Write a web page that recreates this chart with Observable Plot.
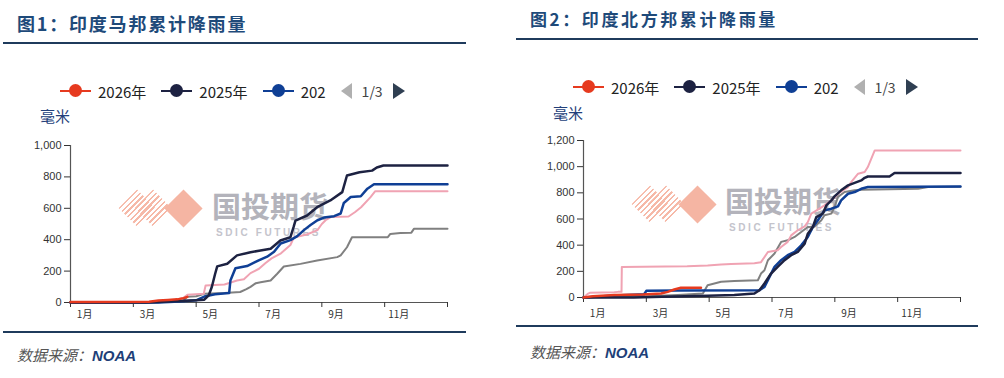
<!DOCTYPE html>
<html><head><meta charset="utf-8">
<script src="https://cdn.jsdelivr.net/npm/d3@7"></script>
<script src="https://cdn.jsdelivr.net/npm/@observablehq/plot@0.6"></script>
<style>
body{margin:0;background:#fff;width:1004px;height:378px;position:relative;overflow:hidden;font-family:"Noto Sans CJK SC","Noto Sans",sans-serif;}
.abs{position:absolute;white-space:nowrap;}
.title{font-weight:700;color:#1e4a7a;}
.rule{position:absolute;height:2px;background:#1f3b5c;}
.legend{position:absolute;display:flex;align-items:center;font-size:15px;color:#222;white-space:nowrap;height:20px;}
.mk{position:relative;width:31px;height:14px;margin-right:7px;flex:none;}
.mk .ln{position:absolute;left:0;right:0;top:6px;height:2px;}
.mk .dot{position:absolute;left:9px;top:0;width:13px;height:13px;border-radius:50%;}
.lt{margin-right:15px;}
.triL{width:0;height:0;border-top:8px solid transparent;border-bottom:8px solid transparent;border-right:11px solid #b0b0b0;margin-right:10px;}
.triR{width:0;height:0;border-top:8px solid transparent;border-bottom:8px solid transparent;border-left:12px solid #2f3f52;margin-left:10px;}
.unit{font-size:15px;color:#23407a;}
.src{font-size:15px;font-style:italic;color:#555;}
.src b{color:#1e3f78;font-family:"Liberation Sans",Arial,sans-serif;font-weight:700;}
.wm{position:absolute;left:0;top:0;width:1004px;height:378px;z-index:0;}
.wm .dia{position:absolute;width:27px;height:27px;background:#f5b5a3;transform:rotate(45deg);}
.wm .str{position:absolute;width:26px;height:26px;transform:rotate(45deg);background:repeating-linear-gradient(90deg,#f6b9a8 0 1.6px,transparent 1.6px 4px);}
.wm .cn{position:absolute;font-size:29px;line-height:29px;color:#b3b3bb;font-weight:700;white-space:nowrap;}
.wm .en{position:absolute;font-size:10px;line-height:10px;color:#c4c4cc;letter-spacing:2.6px;font-family:"Liberation Sans",Arial,sans-serif;font-weight:700;white-space:nowrap;}
.chart{position:absolute;z-index:1;}
</style></head>
<body>
<script>
// ---------- data ----------
const monthTicks = [1, 3, 5, 7, 9, 11];
const legendNames = ["2026年", "2025年", "202"];
const pageLabel = "1/3";
const yTicks1 = [0, 200, 400, 600, 800, 1000];
const yTicks2 = [0, 200, 400, 600, 800, 1000, 1200];

// 图1 印度马邦 cumulative rainfall [month, mm]
const maha2026 = [[1,3],[3.5,5],[3.8,12],[4.1,16],[4.4,20],[4.6,28],[4.72,36]];
const maha2025 = [[1,0],[3.4,0],[3.9,5],[4.5,10],[5.0,14],[5.26,18],[5.4,45],[5.5,100],[5.6,180],[5.67,230],[5.99,247],[6.3,300],[6.73,320],[7.0,330],[7.37,342],[7.68,395],[8.0,416],[8.1,480],[8.16,522],[8.53,554],[8.85,607],[9.27,650],[9.65,703],[9.8,809],[10.2,830],[10.6,840],[10.75,860],[10.96,873],[13,873]];
const maha2024 = [[1,0],[3.8,0],[4.3,5],[4.7,10],[5.0,14],[5.26,38],[5.6,52],[6.05,60],[6.09,140],[6.25,218],[6.62,232],[6.99,268],[7.26,292],[7.48,323],[7.69,376],[8.0,397],[8.22,423],[8.43,461],[8.64,493],[8.86,524],[9.07,541],[9.39,550],[9.6,567],[9.7,634],[9.92,672],[10.24,677],[10.45,725],[10.66,753],[13,753]];
const maha2023 = [[1,0],[3.4,0],[3.8,8],[4.3,15],[4.6,30],[4.72,50],[5.24,55],[5.3,108],[5.9,115],[6.3,140],[6.52,148],[6.73,187],[7.0,215],[7.2,250],[7.4,281],[7.7,313],[8.0,366],[8.11,414],[8.32,423],[8.54,435],[8.86,461],[9.0,500],[9.12,524],[9.3,545],[9.85,548],[10.05,575],[10.25,607],[10.55,671],[10.7,709],[13,709]];
const maha2022 = [[1,0],[3.6,0],[4.2,5],[4.6,15],[4.72,36],[5.0,40],[5.26,55],[5.9,60],[6.4,67],[6.6,85],[6.73,100],[6.9,123],[7.05,129],[7.37,140],[7.58,183],[7.79,229],[8.32,246],[8.85,267],[9.49,289],[9.6,300],[9.8,352],[9.96,416],[11.1,416],[11.18,437],[11.5,443],[11.85,445],[11.93,469],[13,469]];

// 图2 印度北方邦 cumulative rainfall [month, mm]
const up2026 = [[1,0],[1.3,10],[2.0,20],[2.9,22],[3.47,30],[3.68,43],[3.89,61],[4.1,74],[4.74,74]];
const up2025 = [[1,0],[2.6,0],[3.5,5],[4.95,13],[5.8,20],[6.44,30],[6.6,56],[6.76,107],[6.97,183],[7.18,234],[7.4,285],[7.61,323],[7.82,348],[8.04,412],[8.14,488],[8.3,539],[8.41,615],[8.62,641],[8.73,704],[8.89,742],[8.99,773],[9.2,819],[9.42,857],[9.84,895],[9.95,915],[10.05,925],[10.74,925],[10.9,951],[13,951]];
const up2024 = [[1,0],[2.0,15],[2.93,25],[3.0,51],[4.0,53],[6.6,56],[6.76,81],[6.92,158],[7.08,234],[7.29,285],[7.5,323],[7.72,348],[7.93,399],[8.14,463],[8.3,539],[8.46,590],[8.67,666],[8.89,679],[9.1,697],[9.2,742],[9.42,793],[9.63,806],[9.84,831],[10.05,844],[13,848]];
const up2023 = [[1,0],[1.15,30],[1.2,36],[1.98,40],[2.1,43],[2.21,43],[2.22,234],[4.3,238],[4.95,244],[5.38,252],[5.7,256],[6.44,262],[6.65,270],[6.87,348],[7.18,361],[7.29,386],[7.5,425],[7.61,475],[7.82,514],[8.04,544],[8.14,577],[8.25,641],[8.46,671],[8.67,704],[8.89,742],[9.1,793],[9.42,844],[9.52,882],[9.74,946],[9.95,959],[10.05,997],[10.27,1124],[13,1124]];
const up2022 = [[1,0],[3.0,10],[4.0,20],[4.8,30],[4.95,94],[5.38,120],[5.8,127],[6.55,132],[6.65,183],[6.76,208],[6.87,285],[7.08,336],[7.29,425],[7.5,437],[7.72,463],[7.93,501],[8.14,539],[8.35,541],[8.57,590],[8.67,628],[8.89,641],[8.99,692],[9.1,768],[9.31,806],[9.63,819],[9.84,824],[11.65,831],[11.97,844],[13,846]];

// ---------- styles ----------
const colRed = "#e63a1f", colNavy = "#1d2242", colBlue = "#0f3f95", colPink = "#f0a3b3", colGray = "#808080";

function legendHTML(left, top) {
  const cols = [colRed, colNavy, colBlue];
  let h = `<div class="legend" style="left:${left}px;top:${top}px">`;
  legendNames.forEach((n, i) => {
    h += `<div class="mk"><div class="ln" style="background:${cols[i]}"></div><div class="dot" style="background:${cols[i]}"></div></div><span class="lt">${n}</span>`;
  });
  h += `<div class="triL"></div><span style="font-size:14px;color:#444">${pageLabel}</span><div class="triR"></div></div>`;
  return h;
}
function watermark(sx, cy, dx, tx, ty) {
  return `<div class="wm"><div class="str" style="left:${sx}px;top:${cy-13}px"></div><div class="str" style="left:${sx+16}px;top:${cy-13}px"></div><div class="dia" style="left:${dx-13.5}px;top:${cy-13.5}px"></div><div class="cn" style="left:${tx}px;top:${ty}px">国投期货</div><div class="en" style="left:${tx+4}px;top:${ty+37}px">SDIC FUTURES</div></div>`;
}

document.body.insertAdjacentHTML("beforeend",
  `${watermark(124, 208, 183, 212, 191)}
   ${watermark(637, 204, 697, 725, 186)}
   <div class="abs title" style="left:17px;top:10px;font-size:18px;letter-spacing:1.8px">图1：印度马邦累计降雨量</div>
   <div class="rule" style="left:3px;top:42px;width:463px"></div>
   ${legendHTML(60, 81)}
   <div class="abs unit" style="left:40px;top:105px">毫米</div>
   <div class="rule" style="left:3px;top:331px;width:463px"></div>
   <div class="abs src" style="left:17px;top:344px">数据来源：<b>NOAA</b></div>
   <div class="abs title" style="left:530px;top:6px;font-size:17px;letter-spacing:2.6px">图2：印度北方邦累计降雨量</div>
   <div class="rule" style="left:516px;top:38px;width:462px"></div>
   ${legendHTML(573, 77)}
   <div class="abs unit" style="left:553px;top:102px">毫米</div>
   <div class="rule" style="left:516px;top:325px;width:462px"></div>
   <div class="abs src" style="left:530px;top:341px">数据来源：<b>NOAA</b></div>`);

function chart(series, yMax, yTicks, dims) {
  const marks = [
    Plot.ruleY([0], {stroke: "#555", strokeWidth: 1.2}),
    Plot.ruleX([1], {y1: 0, y2: yMax, stroke: "#555", strokeWidth: 1.2}),
    Plot.axisY({ticks: yTicks, tickFormat: d3.format(","), tickSize: 6, tickPadding: 3, label: null, fontSize: 11}),
    Plot.axisX({ticks: [...monthTicks, 13], tickFormat: () => "", tickSize: 5, label: null}),
    Plot.text(monthTicks, {x: d => d + 0.45, y: 0, text: d => d + "月", dy: dims.labelDy, fontSize: 10, fontFamily: "Noto Sans CJK SC", fill: "#333"})
  ];
  for (const s of series) {
    marks.push(Plot.line(s.data, {x: d => d[0], y: d => d[1], stroke: s.color, strokeWidth: s.w, strokeLinejoin: "round"}));
  }
  const el = Plot.plot({
    width: dims.width, height: dims.height,
    marginLeft: dims.ml, marginRight: dims.mr, marginTop: dims.mt, marginBottom: dims.mb,
    x: {domain: [1, 13]},
    y: {domain: [0, yMax]},
    style: {background: "transparent", fontFamily: "'Liberation Sans', Arial, sans-serif", fontSize: "11px", color: "#333", overflow: "visible"},
    marks
  });
  const wrap = document.createElement("div");
  wrap.className = "chart";
  wrap.style.left = dims.left + "px";
  wrap.style.top = dims.top + "px";
  wrap.appendChild(el);
  document.body.appendChild(wrap);
}

chart([
  {data: maha2022, color: colGray, w: 2},
  {data: maha2023, color: colPink, w: 2},
  {data: maha2024, color: colBlue, w: 2.5},
  {data: maha2025, color: colNavy, w: 2.5},
  {data: maha2026, color: colRed, w: 2.5}
], 1000, yTicks1, {left: 0, top: 130, width: 470, height: 200, ml: 70, mr: 23, mt: 15, mb: 28, labelDy: 12});

chart([
  {data: up2022, color: colGray, w: 2},
  {data: up2023, color: colPink, w: 2},
  {data: up2024, color: colBlue, w: 2.5},
  {data: up2025, color: colNavy, w: 2.5},
  {data: up2026, color: colRed, w: 2.5}
], 1200, yTicks2, {left: 500, top: 125, width: 480, height: 200, ml: 83, mr: 20, mt: 15, mb: 28, labelDy: 16});
</script>
</body></html>
